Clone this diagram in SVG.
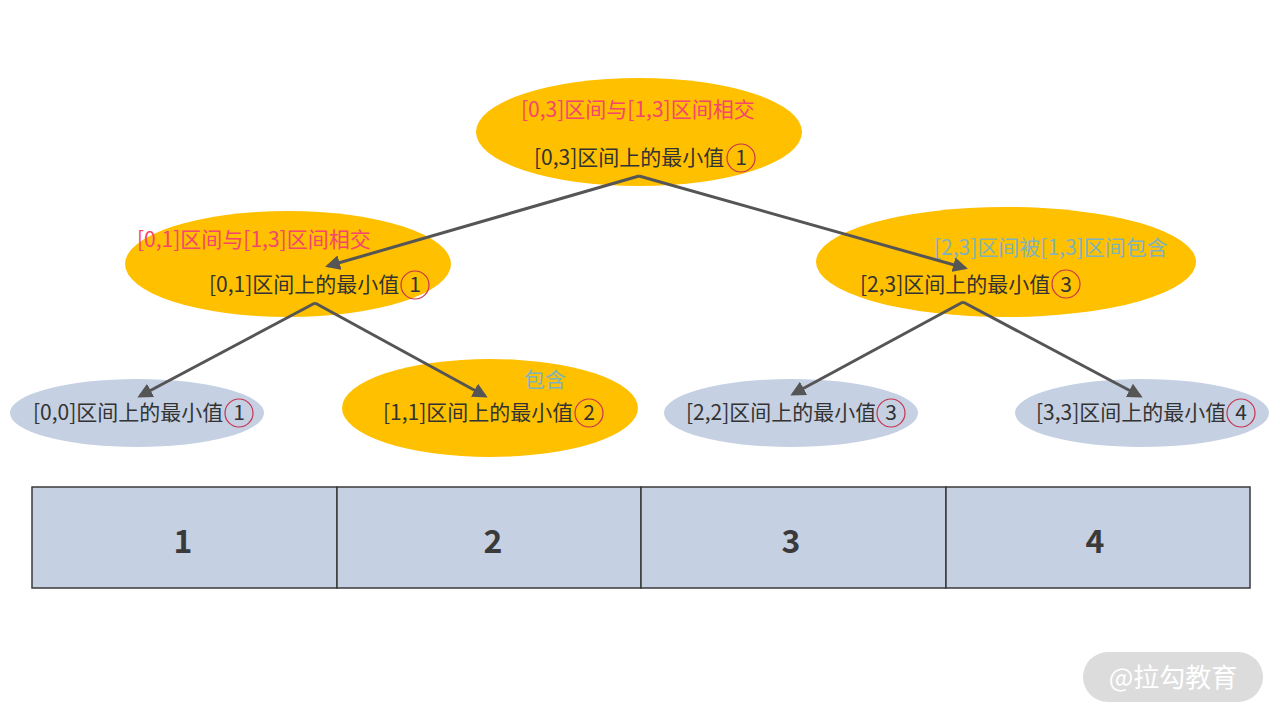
<svg xmlns="http://www.w3.org/2000/svg" width="1280" height="720" viewBox="0 0 1280 720">
<defs>
<marker id="ah" viewBox="0 0 10 10" refX="8" refY="5" markerWidth="5" markerHeight="5" orient="auto" markerUnits="strokeWidth">
<path d="M0,0 L10,5 L0,10 z" fill="#555555"/>
</marker>
<style>
text{font-family:"Noto Sans CJK SC","Noto Sans",sans-serif;}
.org{fill:#ffc000;}
.gry{fill:#c5d0e2;}
.lbl{font-size:21px;fill:#333333;}
.red{font-size:21px;fill:#f5456e;}
.blu{font-size:21px;fill:#7fb3bc;}
.cir{fill:none;stroke:#c8324f;stroke-width:1.2;}
.dig{font-size:21px;fill:#333333;text-anchor:middle;}
.conn{stroke:#555555;stroke-width:3;fill:none;marker-end:url(#ah);}
.cell{fill:#c5d0e2;stroke:#3a3a3a;stroke-width:1.5;}
.num{font-size:32px;font-weight:bold;fill:#3a3a3a;text-anchor:middle;}
</style>
</defs>
<rect width="1280" height="720" fill="#ffffff"/>

<g id="node-03">
<ellipse class="org" cx="639" cy="132" rx="163" ry="54"/>
<text class="red" x="521" y="117">[0,3]区间与[1,3]区间相交</text>
<text class="lbl" x="534" y="165">[0,3]区间上的最小值</text>
<circle class="cir" cx="741" cy="158" r="14"/>
<text class="dig" x="741" y="165">1</text>
</g>

<g id="node-01">
<ellipse class="org" cx="288" cy="264" rx="163" ry="53"/>
<text class="red" x="137" y="247">[0,1]区间与[1,3]区间相交</text>
<text class="lbl" x="209" y="292">[0,1]区间上的最小值</text>
<circle class="cir" cx="415" cy="285" r="14"/>
<text class="dig" x="415" y="292">1</text>
</g>

<g id="node-23">
<ellipse class="org" cx="1006" cy="262" rx="190" ry="55"/>
<text class="blu" x="934" y="255">[2,3]区间被[1,3]区间包含</text>
<text class="lbl" x="860" y="292">[2,3]区间上的最小值</text>
<circle class="cir" cx="1066" cy="284" r="14"/>
<text class="dig" x="1066" y="292">3</text>
</g>

<g id="node-00">
<ellipse class="gry" cx="137" cy="413" rx="127" ry="34"/>
<text class="lbl" x="33" y="420">[0,0]区间上的最小值</text>
<circle class="cir" cx="239" cy="413" r="14"/>
<text class="dig" x="239" y="420">1</text>
</g>

<g id="node-11">
<ellipse class="org" cx="490" cy="408" rx="148" ry="49"/>
<text class="blu" x="524" y="387">包含</text>
<text class="lbl" x="383" y="420">[1,1]区间上的最小值</text>
<circle class="cir" cx="589" cy="413" r="14"/>
<text class="dig" x="589" y="420">2</text>
</g>

<g id="node-22">
<ellipse class="gry" cx="791" cy="413" rx="127" ry="34"/>
<text class="lbl" x="686" y="420">[2,2]区间上的最小值</text>
<circle class="cir" cx="891" cy="413" r="14"/>
<text class="dig" x="891" y="420">3</text>
</g>

<g id="node-33">
<ellipse class="gry" cx="1142" cy="413" rx="127" ry="34"/>
<text class="lbl" x="1036" y="420">[3,3]区间上的最小值</text>
<circle class="cir" cx="1241" cy="413" r="14"/>
<text class="dig" x="1241" y="420">4</text>
</g>

<g id="connectors">
<line class="conn" x1="639" y1="176" x2="328" y2="266"/>
<line class="conn" x1="639" y1="176" x2="965" y2="268"/>
<line class="conn" x1="315" y1="303" x2="140" y2="396"/>
<line class="conn" x1="315" y1="303" x2="485" y2="396"/>
<line class="conn" x1="963" y1="302" x2="793" y2="394"/>
<line class="conn" x1="963" y1="302" x2="1140" y2="396"/>
</g>

<g id="array">
<rect class="cell" x="32" y="487" width="305" height="101"/>
<rect class="cell" x="337" y="487" width="304" height="101"/>
<rect class="cell" x="641" y="487" width="305" height="101"/>
<rect class="cell" x="946" y="487" width="304" height="101"/>
<text class="num" x="183" y="553">1</text>
<text class="num" x="493" y="553">2</text>
<text class="num" x="791" y="553">3</text>
<text class="num" x="1095" y="553">4</text>
</g>

<g id="watermark">
<rect x="1083" y="652" width="180" height="50" rx="25" fill="#dcdcdc"/>
<text x="1173" y="687" font-size="26" fill="#ffffff" text-anchor="middle">@拉勾教育</text>
</g>
</svg>
